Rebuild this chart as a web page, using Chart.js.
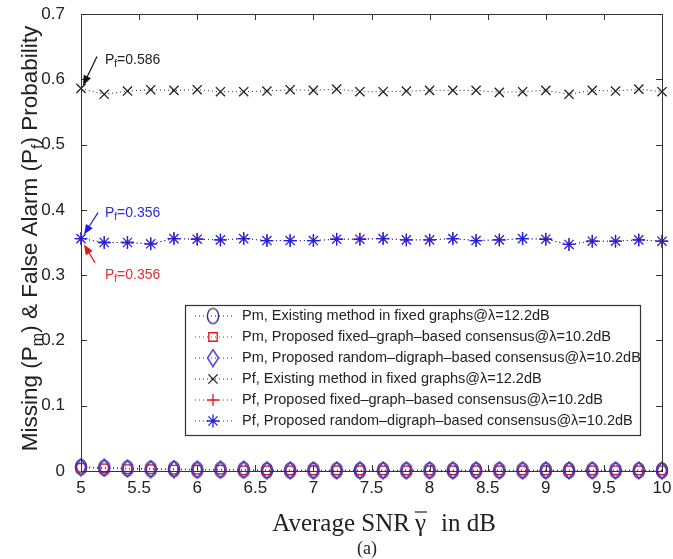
<!DOCTYPE html>
<html>
<head>
<meta charset="utf-8">
<script src="https://cdn.jsdelivr.net/npm/chart.js@4/dist/chart.umd.min.js"></script>
<style>
  body { margin: 0; background: #fff; }
  #wrap { width: 673px; height: 559px; }
</style>
</head>
<body>
<div id="wrap"><canvas id="snr-chart"></canvas></div>
<script>
// average SNR in dB
var snr = [5, 5.2, 5.4, 5.6, 5.8, 6, 6.2, 6.4, 6.6, 6.8, 7, 7.2, 7.4, 7.6, 7.8, 8, 8.2, 8.4, 8.6, 8.8, 9, 9.2, 9.4, 9.6, 9.8, 10];

// missing probability
var pmExisting = [0.006, 0.005, 0.004, 0.003, 0.003, 0.002, 0.002, 0.002, 0.001, 0.001, 0.001, 0.001, 0.001, 0.001, 0.001, 0.001, 0.001, 0.001, 0.001, 0.001, 0.001, 0.001, 0.001, 0.001, 0.001, 0.001];
var pmFixed = [0.005, 0.004, 0.003, 0.003, 0.002, 0.002, 0.002, 0.001, 0.001, 0.001, 0.001, 0.001, 0.001, 0.001, 0.001, 0.001, 0.001, 0.001, 0.001, 0.001, 0.001, 0.001, 0.001, 0.001, 0.001, 0.001];
var pmRandom = [0.006, 0.005, 0.004, 0.003, 0.003, 0.002, 0.002, 0.002, 0.001, 0.001, 0.001, 0.001, 0.001, 0.001, 0.001, 0.001, 0.001, 0.001, 0.001, 0.001, 0.001, 0.001, 0.001, 0.001, 0.001, 0.001];

// false alarm probability
var pfExisting = [0.586, 0.577, 0.582, 0.584, 0.583, 0.584, 0.581, 0.581, 0.582, 0.584, 0.583, 0.585, 0.581, 0.581, 0.582, 0.583, 0.583, 0.583, 0.580, 0.581, 0.583, 0.577, 0.583, 0.582, 0.585, 0.581];
var pfFixed = [0.356, 0.350, 0.350, 0.348, 0.356, 0.355, 0.354, 0.356, 0.353, 0.353, 0.353, 0.355, 0.355, 0.356, 0.354, 0.354, 0.356, 0.353, 0.354, 0.356, 0.355, 0.347, 0.352, 0.352, 0.354, 0.352];
var pfRandom = [0.356, 0.350, 0.350, 0.348, 0.356, 0.355, 0.354, 0.356, 0.353, 0.353, 0.353, 0.355, 0.355, 0.356, 0.354, 0.354, 0.356, 0.353, 0.354, 0.356, 0.355, 0.347, 0.352, 0.352, 0.354, 0.352];

var seriesLabels = [
  'Pm, Existing method in fixed graphs@\u03bb=12.2dB',
  'Pm, Proposed fixed\u2013graph\u2013based consensus@\u03bb=10.2dB',
  'Pm, Proposed random\u2013digraph\u2013based consensus@\u03bb=10.2dB',
  'Pf, Existing method in fixed graphs@\u03bb=12.2dB',
  'Pf, Proposed fixed\u2013graph\u2013based consensus@\u03bb=10.2dB',
  'Pf, Proposed random\u2013digraph\u2013based consensus@\u03bb=10.2dB'
];

var BLACK = '#222222';
var RED = '#e01818';
var BLUE = '#2222dd';

// tall marker shapes (ellipse and diamond) as small canvases
function makeMarker(kind, color) {
  var c = document.createElement('canvas');
  c.width = 14; c.height = 19;
  var g = c.getContext('2d');
  g.strokeStyle = color;
  g.lineWidth = 1.4;
  g.beginPath();
  if (kind === 'ellipse') {
    g.ellipse(7, 9.5, 5.6, 7.6, 0, 0, Math.PI * 2);
  } else {
    g.moveTo(7, 1); g.lineTo(12.5, 9.5); g.lineTo(7, 18); g.lineTo(1.5, 9.5); g.closePath();
  }
  g.stroke();
  return c;
}

function pts(ys) {
  return snr.map(function(x, i) { return { x: x, y: ys[i] }; });
}

function series(idx, ys, color, style, radius) {
  return {
    label: seriesLabels[idx],
    data: pts(ys),
    borderColor: color,
    backgroundColor: 'rgba(0,0,0,0)',
    borderWidth: 1,
    borderDash: [1, 3],
    pointStyle: style,
    pointRadius: radius,
    pointBorderWidth: 1.3,
    pointBorderColor: color,
    pointBackgroundColor: 'rgba(0,0,0,0)',
    pointHoverRadius: radius,
    clip: false,
    order: 6 - idx
  };
}

function drawArrow(ctx, x1, y1, x2, y2, color) {
  var a = Math.atan2(y2 - y1, x2 - x1);
  ctx.strokeStyle = color;
  ctx.fillStyle = color;
  ctx.lineWidth = 1.2;
  ctx.beginPath();
  ctx.moveTo(x1, y1);
  ctx.lineTo(x2 - 6 * Math.cos(a), y2 - 6 * Math.sin(a));
  ctx.stroke();
  ctx.beginPath();
  ctx.moveTo(x2, y2);
  ctx.lineTo(x2 - 10 * Math.cos(a) + 4 * Math.sin(a), y2 - 10 * Math.sin(a) - 4 * Math.cos(a));
  ctx.lineTo(x2 - 10 * Math.cos(a) - 4 * Math.sin(a), y2 - 10 * Math.sin(a) + 4 * Math.cos(a));
  ctx.closePath();
  ctx.fill();
}

function drawPfLabel(ctx, x, y, value, color) {
  ctx.fillStyle = color;
  ctx.textAlign = 'left';
  ctx.textBaseline = 'alphabetic';
  ctx.font = '14px "Liberation Sans", Arial, sans-serif';
  ctx.fillText('P', x, y);
  var w = ctx.measureText('P').width;
  ctx.font = '10px "Liberation Sans", Arial, sans-serif';
  ctx.fillText('f', x + w, y + 3);
  var w2 = ctx.measureText('f').width;
  ctx.font = '14px "Liberation Sans", Arial, sans-serif';
  ctx.fillText('=' + value.toFixed(3), x + w + w2, y);
}

var decorations = {
  id: 'decorations',
  afterDatasetsDraw: function(chart) {
    var ctx = chart.ctx;
    var xs = chart.scales.x, ys = chart.scales.y;
    var area = chart.chartArea;
    ctx.save();

    // axes box with inward ticks
    ctx.strokeStyle = '#333';
    ctx.lineWidth = 1;
    ctx.strokeRect(area.left + 0.5, area.top + 0.5, area.right - area.left, area.bottom - area.top);
    xs.ticks.forEach(function(t) {
      var px = Math.round(xs.getPixelForValue(t.value)) + 0.5;
      ctx.beginPath();
      ctx.moveTo(px, area.bottom); ctx.lineTo(px, area.bottom - 6);
      ctx.moveTo(px, area.top); ctx.lineTo(px, area.top + 6);
      ctx.stroke();
    });
    ys.ticks.forEach(function(t) {
      var py = Math.round(ys.getPixelForValue(t.value)) + 0.5;
      ctx.beginPath();
      ctx.moveTo(area.left, py); ctx.lineTo(area.left + 6, py);
      ctx.moveTo(area.right, py); ctx.lineTo(area.right - 6, py);
      ctx.stroke();
    });

    // value callouts at the first SNR point
    var p0 = xs.getPixelForValue(snr[0]);
    var pBlack = ys.getPixelForValue(pfExisting[0]);
    drawArrow(ctx, p0 + 16, pBlack - 32, p0 + 2, pBlack - 3, '#111');
    drawPfLabel(ctx, p0 + 24, pBlack - 24, pfExisting[0], '#222');
    var pBlue = ys.getPixelForValue(pfRandom[0]);
    drawArrow(ctx, p0 + 17, pBlue - 26, p0 + 3, pBlue - 4, '#1c1ce0');
    drawPfLabel(ctx, p0 + 24, pBlue - 22, pfRandom[0], '#2a2ad8');
    var pRed = ys.getPixelForValue(pfFixed[0]);
    drawArrow(ctx, p0 + 14, pRed + 24, p0 + 3, pRed + 6, '#e01818');
    drawPfLabel(ctx, p0 + 24, pRed + 40, pfFixed[0], '#e03030');

    // legend box
    var lx = 185, ly = 305, lw = 455, lh = 130;
    ctx.fillStyle = '#fff';
    ctx.fillRect(lx, ly, lw, lh);
    ctx.strokeStyle = '#333';
    ctx.strokeRect(lx + 0.5, ly + 0.5, lw, lh);
    chart.data.datasets.forEach(function(ds, i) {
      var rowY = ly + 11 + i * 21;
      ctx.strokeStyle = ds.borderColor;
      ctx.lineWidth = 1;
      ctx.setLineDash([1, 3]);
      ctx.beginPath();
      ctx.moveTo(lx + 10, rowY); ctx.lineTo(lx + 47, rowY);
      ctx.stroke();
      ctx.setLineDash([]);
      ctx.strokeStyle = ds.pointBorderColor;
      ctx.fillStyle = 'rgba(0,0,0,0)';
      ctx.lineWidth = ds.pointBorderWidth;
      Chart.helpers.drawPoint(ctx, {
        pointStyle: ds.pointStyle, radius: ds.pointRadius, rotation: 0, borderWidth: ds.pointBorderWidth
      }, lx + 28, rowY);
      ctx.fillStyle = '#222';
      ctx.font = '14.5px "Liberation Sans", Arial, sans-serif';
      ctx.textAlign = 'left';
      ctx.textBaseline = 'middle';
      ctx.fillText(ds.label, lx + 57, rowY);
    });

    // y axis title with subscripts
    ctx.save();
    ctx.translate(29, (area.top + area.bottom) / 2 - 4);
    ctx.rotate(-Math.PI / 2);
    ctx.fillStyle = '#222';
    ctx.textBaseline = 'alphabetic';
    var big = '22.5px "Liberation Sans", Arial, sans-serif';
    var small = '16px "Liberation Sans", Arial, sans-serif';
    var parts = [['Missing (P', big, 0], ['m', small, 6], [') & False Alarm (P', big, 0], ['f', small, 6], [') Probability', big, 0]];
    var total = 0;
    parts.forEach(function(p) { ctx.font = p[1]; total += ctx.measureText(p[0]).width; });
    var cx = -total / 2;
    parts.forEach(function(p) {
      ctx.font = p[1];
      ctx.fillText(p[0], cx, 8 + p[2]);
      cx += ctx.measureText(p[0]).width;
    });
    ctx.restore();

    // x axis title, gamma with an overbar
    ctx.font = '25px "Liberation Serif", "Times New Roman", serif';
    ctx.fillStyle = '#222';
    ctx.textBaseline = 'alphabetic';
    ctx.textAlign = 'left';
    var s1 = 'Average SNR', s2 = '\u03b3', s3 = 'in dB';
    var w1 = ctx.measureText(s1).width, w2 = ctx.measureText(s2).width, w3 = ctx.measureText(s3).width;
    var gapA = 5, gapB = 15;
    var sx = 384 - (w1 + gapA + w2 + gapB + w3) / 2;
    var by = 531;
    ctx.fillText(s1, sx, by);
    ctx.fillText(s2, sx + w1 + gapA, by);
    ctx.fillText(s3, sx + w1 + gapA + w2 + gapB, by);
    ctx.strokeStyle = '#222';
    ctx.lineWidth = 1.2;
    ctx.beginPath();
    ctx.moveTo(sx + w1 + gapA, by - 19); ctx.lineTo(sx + w1 + gapA + w2 + 1, by - 19);
    ctx.stroke();

    ctx.font = '18px "Liberation Serif", "Times New Roman", serif';
    ctx.textAlign = 'center';
    ctx.fillText('(a)', 367, 554);
    ctx.restore();
  }
};

var ctx = document.getElementById('snr-chart');
var snrChart = new Chart(ctx, {
  type: 'line',
  data: {
    datasets: [
      series(0, pmExisting, BLACK, makeMarker('ellipse', '#33287a'), 7),
      series(1, pmFixed, RED, 'rect', 6),
      series(2, pmRandom, BLUE, makeMarker('diamond', '#4a34cc'), 7),
      series(3, pfExisting, BLACK, 'crossRot', 6.5),
      series(4, pfFixed, RED, 'cross', 6),
      series(5, pfRandom, BLUE, 'star', 6.5)
    ]
  },
  options: {
    responsive: true,
    maintainAspectRatio: false,
    animation: false,
    layout: { padding: { top: 14, right: 11, left: 0, bottom: 0 } },
    plugins: {
      legend: { display: false },
      tooltip: { enabled: false }
    },
    scales: {
      x: {
        type: 'linear',
        min: 5,
        max: 10,
        grid: { display: false, drawTicks: false, tickLength: 0 },
        border: { display: false },
        ticks: {
          stepSize: 0.5,
          padding: 7,
          color: '#222',
          font: { family: '"Liberation Sans", Arial, sans-serif', size: 17 },
          callback: function(v) { return String(v); }
        },
        afterFit: function(scale) {
          scale.height = 88;
          scale.paddingLeft = 0;
          scale.paddingRight = 0;
        }
      },
      y: {
        min: 0,
        max: 0.7,
        grid: { display: false, drawTicks: false, tickLength: 0 },
        border: { display: false },
        ticks: {
          stepSize: 0.1,
          padding: 16,
          color: '#222',
          font: { family: '"Liberation Sans", Arial, sans-serif', size: 17 },
          callback: function(v) { return v === 0 ? '0' : v.toFixed(1); }
        },
        afterFit: function(scale) {
          scale.width = 81;
          scale.paddingTop = 0;
          scale.paddingBottom = 0;
        }
      }
    }
  },
  plugins: [decorations]
});
</script>
</body>
</html>
